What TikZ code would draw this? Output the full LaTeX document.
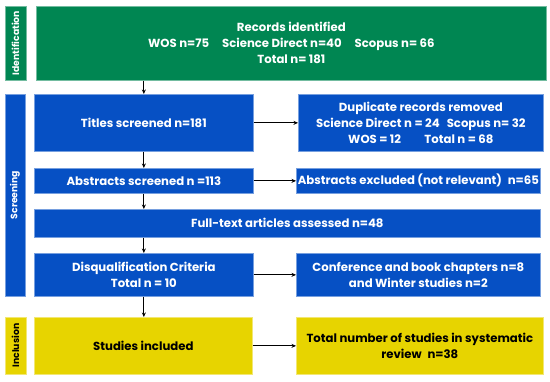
\documentclass[tikz,border=0pt]{standalone}
\usepackage{fontspec}
\setmainfont{Poppins}
\usetikzlibrary{arrows.meta}
\definecolor{gr}{RGB}{0,134,82}
\definecolor{bl}{RGB}{6,80,196}
\definecolor{ye}{RGB}{231,212,0}
\begin{document}
\begin{tikzpicture}[x=1pt,y=-1pt,
  box/.style={draw=#1!55!white, line width=0.7pt, fill=#1, text=white,
    font=\bfseries\fontsize{11.7}{16}\selectfont, align=center, inner sep=0pt,
    anchor=north west},
  ybox/.style={box=ye, text=black},
  side/.style={draw=#1!55!white, line width=0.7pt, fill=#1, text=white,
    font=\bfseries\fontsize{9.3}{10}\selectfont, inner sep=0pt, rotate=90},
  arr/.style={-{Stealth[length=4.5pt,width=4pt]}, line width=0.9pt, black}]
\fill[white] (0,0) rectangle (550,381);
\useasboundingbox (0,0) rectangle (550,381);

% side bars
\node[side=gr, minimum width=74pt, minimum height=21pt] (sid) at (15.5,43) {Identification};
\node[side=bl, minimum width=202pt, minimum height=20pt] (sscr) at (15,195) {Screening};
\node[side=ye, text=black, minimum width=57pt, minimum height=21pt] (sinc) at (15.5,345.5) {Inclusion};

% boxes
\node[box=gr, minimum width=510pt, minimum height=74pt] (rec) at (36,6)
  {Records identified\\WOS n=75\hspace{1.1em}Science Direct n=40\hspace{1.1em}Scopus n= 66\\Total n= 181};
\node[box=bl, minimum width=219pt, minimum height=57pt] (tit) at (34,94) {Titles screened n=181};
\node[box=bl, minimum width=245pt, minimum height=57pt] (dup) at (298,94)
  {Duplicate records removed\\Science Direct n = 24\hspace{0.6em}Scopus n= 32\\WOS = 12\hspace{2em}Total n = 68};
\node[box=bl, minimum width=219pt, minimum height=25pt] (abs) at (34,168) {Abstracts screened n =113};
\node[box=bl, minimum width=244pt, minimum height=25pt] (absx) at (296,168) {Abstracts excluded (not relevant)\hspace{0.5em}n=65};
\node[box=bl, minimum width=506pt, minimum height=28pt] (full) at (34,209) {Full-text articles assessed n=48};
\node[box=bl, minimum width=219pt, minimum height=43pt] (dis) at (34,253) {Disqualification Criteria\\Total n = 10};
\node[box=bl, minimum width=244pt, minimum height=43pt] (conf) at (296,253) {Conference and book chapters n=8\\and Winter studies n=2};
\node[ybox, minimum width=218pt, minimum height=57pt] (stu) at (34,317) {Studies included};
\node[ybox, minimum width=247pt, minimum height=57pt] (tot) at (296,317) {Total number of studies in systematic\\review\hspace{0.5em}n=38};

% arrows
\draw[arr] (rec.south -| tit.north) -- (tit.north);
\draw[arr] (tit) -- (dup);
\draw[arr] (tit.south) -- (abs.north);
\draw[arr] (abs) -- (absx);
\draw[arr] (abs.south) -- (abs.south |- full.north);
\draw[arr] (abs.south |- full.south) -- (dis.north);
\draw[arr] (dis) -- (conf);
\draw[arr] (dis.south) -- (stu.north -| dis.south);
\draw[arr] (stu) -- (tot);
\end{tikzpicture}
\end{document}
